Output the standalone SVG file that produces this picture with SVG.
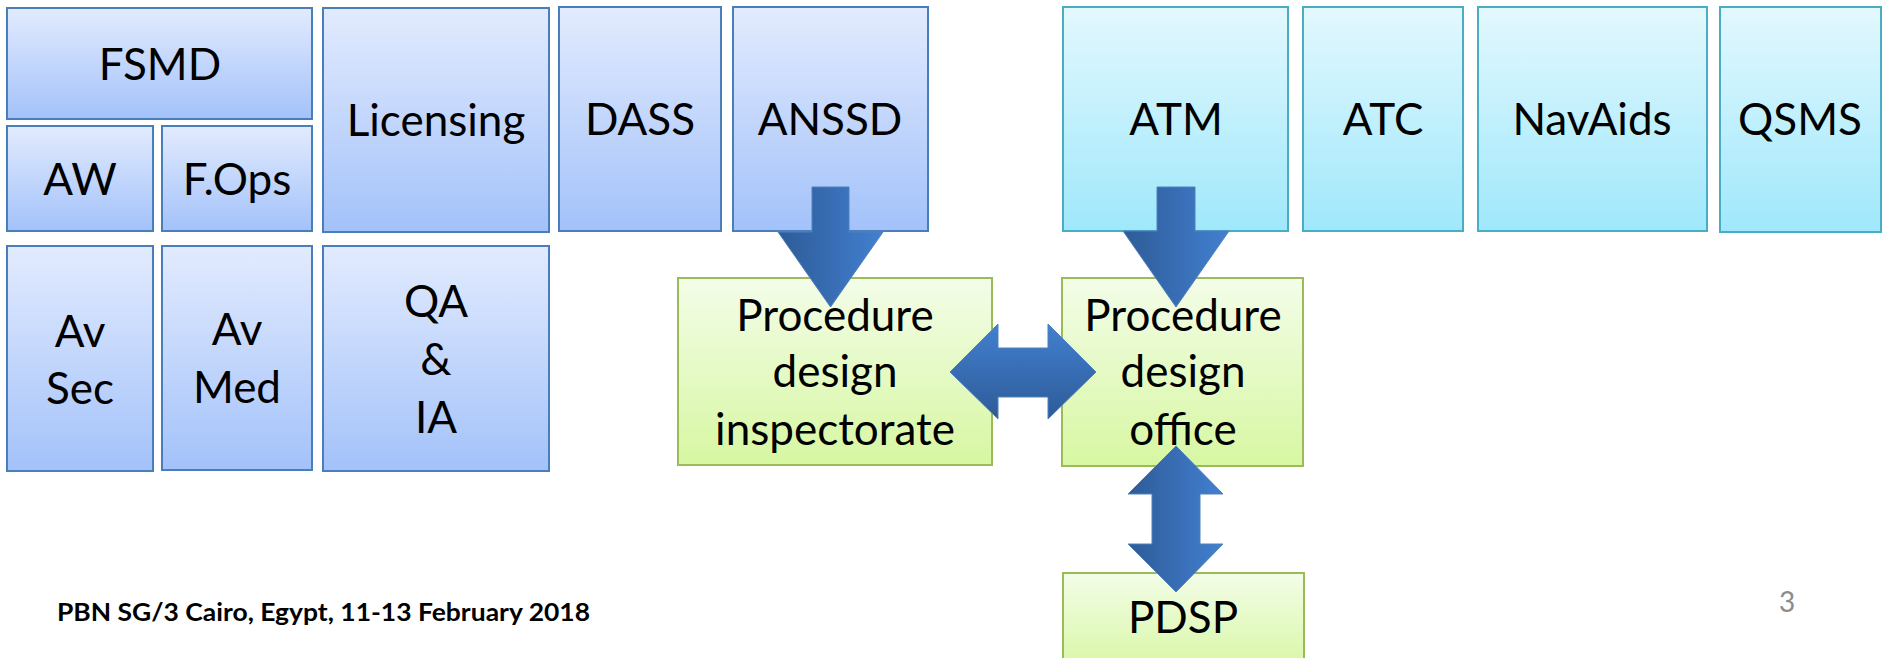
<svg xmlns="http://www.w3.org/2000/svg" width="1887" height="658" viewBox="0 0 1887 658">
<defs>
<linearGradient id="gBlue" x1="0" y1="0" x2="0" y2="1"><stop offset="0" stop-color="#e2ebfe"/><stop offset="1" stop-color="#a3c2fa"/></linearGradient>
<linearGradient id="gCyan" x1="0" y1="0" x2="0" y2="1"><stop offset="0" stop-color="#e3f8fe"/><stop offset="1" stop-color="#9fe8fb"/></linearGradient>
<linearGradient id="gGreen" x1="0" y1="0" x2="0" y2="1"><stop offset="0" stop-color="#f3fde8"/><stop offset="1" stop-color="#d7f7a2"/></linearGradient>
<linearGradient id="gArrV" x1="0" y1="0" x2="1" y2="0"><stop offset="0" stop-color="#2d5b96"/><stop offset="0.5" stop-color="#386db4"/><stop offset="1" stop-color="#4280d0"/></linearGradient>
<linearGradient id="gArrH" x1="0" y1="0" x2="0" y2="1"><stop offset="0" stop-color="#4280d0"/><stop offset="0.5" stop-color="#386db4"/><stop offset="1" stop-color="#2d5b96"/></linearGradient>
<style>
.bb{fill:url(#gBlue);stroke:#4a7ebb;stroke-width:2}
.cb{fill:url(#gCyan);stroke:#4bacc6;stroke-width:2}
.gb{fill:url(#gGreen);stroke:#9bbb59;stroke-width:2}
.t{font-family:Lato,"Liberation Sans",sans-serif;font-size:44px;fill:#000;text-anchor:middle}
.av{fill:url(#gArrV);stroke:#4f81bd;stroke-width:1}
.ah{fill:url(#gArrH);stroke:#4f81bd;stroke-width:1}
</style>
</defs>
<rect width="1887" height="658" fill="#fff"/>
<g id="fsmd"><rect class="bb" x="7" y="8" width="305" height="111"/><text class="t" x="160" y="80">FSMD</text></g>
<g id="aw"><rect class="bb" x="7" y="126" width="146" height="105"/><text class="t" x="80" y="195">AW</text></g>
<g id="fops"><rect class="bb" x="162" y="126" width="150" height="105"/><text class="t" x="237" y="195">F.Ops</text></g>
<g id="licensing"><rect class="bb" x="323" y="8" width="226" height="224"/><text class="t" x="436" y="136">Licensing</text></g>
<g id="avsec"><rect class="bb" x="7" y="246" width="146" height="225"/><text class="t" x="80" y="347">Av</text><text class="t" x="80" y="404">Sec</text></g>
<g id="avmed"><rect class="bb" x="162" y="246" width="150" height="224"/><text class="t" x="237" y="345">Av</text><text class="t" x="237" y="403">Med</text></g>
<g id="qaia"><rect class="bb" x="323" y="246" width="226" height="225"/><text class="t" x="436" y="317">QA</text><text class="t" x="436" y="375">&amp;</text><text class="t" x="436" y="433">IA</text></g>
<g id="dass"><rect class="bb" x="559" y="7" width="162" height="224"/><text class="t" x="640" y="135">DASS</text></g>
<g id="anssd"><rect class="bb" x="733" y="7" width="195" height="224"/><text class="t" x="830" y="135">ANSSD</text></g>
<g id="atm"><rect class="cb" x="1063" y="7" width="225" height="224"/><text class="t" x="1176" y="135">ATM</text></g>
<g id="atc"><rect class="cb" x="1303" y="7" width="160" height="224"/><text class="t" x="1383" y="135">ATC</text></g>
<g id="navaids"><rect class="cb" x="1478" y="7" width="229" height="224"/><text class="t" x="1592" y="135">NavAids</text></g>
<g id="qsms"><rect class="cb" x="1720" y="7" width="161" height="225"/><text class="t" x="1800" y="135">QSMS</text></g>
<g id="pdi"><rect class="gb" x="678" y="278" width="314" height="187"/><text class="t" x="835" y="331">Procedure</text><text class="t" x="835" y="387">design</text><text class="t" x="835" y="445">inspectorate</text></g>
<g id="pdo"><rect class="gb" x="1062" y="278" width="241" height="188"/><text class="t" x="1183" y="331">Procedure</text><text class="t" x="1183" y="387">design</text><text class="t" x="1183" y="445">office</text></g>
<g id="pdsp"><rect class="gb" x="1063" y="573" width="241" height="100"/><text class="t" x="1183" y="633">PDSP</text></g>
<g id="connectors">
<polygon class="av" points="812,187 849,187 849,232 883,232 830.5,307 778,232 812,232"/>
<polygon class="av" points="1157,187 1195,187 1195,231 1229,231 1176,307 1123,231 1157,231"/>
<polygon class="ah" points="950,372 998,324 998,348 1048,348 1048,324 1096,372 1048,419 1048,397 998,397 998,419"/>
<polygon class="av" points="1176,446 1223,494 1200,494 1200,544 1223,544 1176,592 1128,544 1152,544 1152,494 1128,494"/>
</g>
<g id="footer">
<text x="57" y="621" font-family="Lato,'Liberation Sans',sans-serif" font-weight="bold" font-size="24" textLength="533" lengthAdjust="spacingAndGlyphs" fill="#000">PBN SG/3 Cairo, Egypt, 11-13 February 2018</text>
<text x="1787" y="612" font-family="Lato,'Liberation Sans',sans-serif" font-size="28" fill="#8b8b8b" text-anchor="middle">3</text>
</g>
</svg>
